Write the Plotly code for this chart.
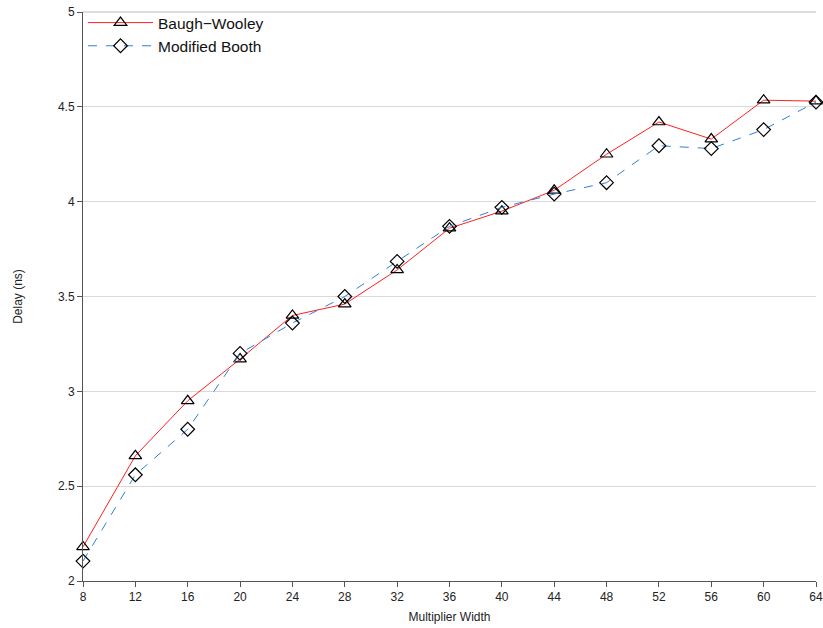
import plotly.graph_objects as go

widths = [8, 12, 16, 20, 24, 28, 32, 36, 40, 44, 48, 52, 56, 60, 64]
baugh_wooley = [2.18, 2.66, 2.95, 3.17, 3.40, 3.46, 3.64, 3.86, 3.95, 4.06, 4.25, 4.42, 4.33, 4.535, 4.53]
modified_booth = [2.105, 2.56, 2.80, 3.20, 3.36, 3.50, 3.685, 3.87, 3.97, 4.04, 4.10, 4.295, 4.28, 4.38, 4.525]
y_ticks = [2, 2.5, 3, 3.5, 4, 4.5, 5]
y_tick_text = ["2", "2.5", "3", "3.5", "4", "4.5", "5"]

fig = go.Figure()
fig.add_trace(go.Scatter(
    x=widths, y=baugh_wooley, name="Baugh\u2212Wooley", mode="lines+markers",
    line=dict(color="#ff2020", width=1),
    marker=dict(symbol="triangle-up-open", size=11, color="black", line=dict(width=1.2, color="black")),
    cliponaxis=False,
))
fig.add_trace(go.Scatter(
    x=widths, y=modified_booth, name="Modified Booth", mode="lines+markers",
    line=dict(color="#2f7fd8", width=1, dash="dash"),
    marker=dict(symbol="diamond-open", size=10.5, color="black", line=dict(width=1.2, color="black")),
    cliponaxis=False,
))

fig.update_layout(
    width=823, height=628,
    margin=dict(l=83, r=7, t=12, b=47, autoexpand=False),
    plot_bgcolor="white", paper_bgcolor="white",
    font=dict(family="Liberation Sans, Arial, sans-serif", size=12, color="#222"),
    showlegend=True,
    legend=dict(x=0.0, y=1.0105, xanchor="left", yanchor="top", bgcolor="rgba(0,0,0,0)",
                font=dict(size=15.5, color="#111"), itemwidth=65, tracegroupgap=0),
    # top gridline at the range edge (plotly omits gridlines exactly at the edge)
    shapes=[dict(type="line", xref="paper", yref="paper", x0=0, x1=1, y0=1, y1=1,
                 line=dict(color="#d0d0d0", width=1.5), layer="below")],
)
fig.update_xaxes(
    range=[8, 64], tickmode="array", tickvals=widths, ticktext=[str(w) for w in widths],
    showgrid=False, zeroline=False, showline=True, linecolor="#555", linewidth=1,
    ticks="outside", ticklen=5, tickcolor="#555", automargin=False,
    title=dict(text="Multiplier Width", standoff=9, font=dict(size=12)),
)
fig.update_yaxes(
    range=[2, 5], tickmode="array", tickvals=y_ticks, ticktext=y_tick_text,
    showgrid=True, gridcolor="#d9d9d9", gridwidth=1, zeroline=False,
    showline=True, linecolor="#555", linewidth=1,
    ticks="outside", ticklen=5, tickcolor="#555", automargin=False,
    title=dict(text="Delay (ns)", standoff=32, font=dict(size=12)),
)

fig.write_html("out.html", config={"displayModeBar": False},
               post_script="document.body.style.margin='0';document.body.style.overflow='hidden';")
